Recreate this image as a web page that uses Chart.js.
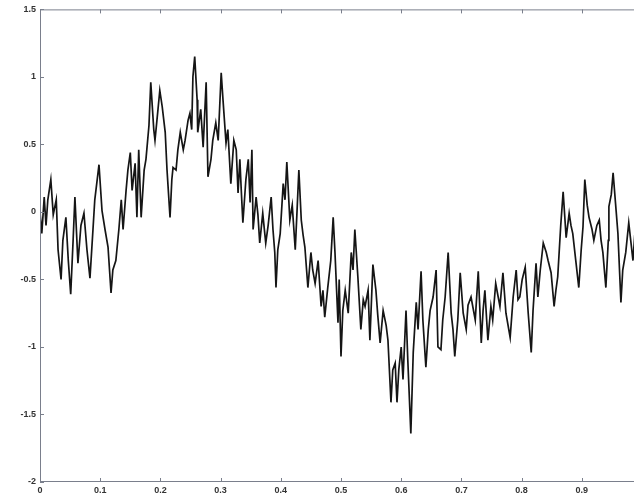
<!DOCTYPE html>
<html>
<head>
<meta charset="utf-8">
<script src="https://cdn.jsdelivr.net/npm/chart.js@4"></script>
<style>
html,body{margin:0;padding:0;background:#fff;overflow:hidden;}
#wrap{width:650px;height:504px;}
</style>
</head>
<body>
<div id="wrap"><canvas id="c" width="650" height="504"></canvas></div>
<script>
const xValues = [0.000,0.003,0.007,0.010,0.013,0.018,0.022,0.027,0.030,0.035,0.038,0.043,0.047,0.051,0.055,0.058,0.063,0.068,0.073,0.078,0.083,0.088,0.091,0.098,0.103,0.108,0.113,0.118,0.121,0.126,0.131,0.135,0.138,0.143,0.146,0.150,0.153,0.158,0.161,0.164,0.168,0.173,0.176,0.181,0.184,0.189,0.191,0.196,0.199,0.203,0.208,0.211,0.216,0.219,0.221,0.226,0.229,0.233,0.238,0.241,0.246,0.249,0.252,0.254,0.257,0.261,0.262,0.267,0.271,0.276,0.279,0.284,0.287,0.292,0.296,0.301,0.304,0.309,0.312,0.317,0.322,0.326,0.329,
0.332,0.334,0.337,0.342,0.346,0.349,0.352,0.354,0.359,0.362,0.365,0.370,0.375,0.379,0.384,0.387,0.390,0.392,0.395,0.399,0.404,0.407,0.410,0.415,0.419,0.424,0.427,0.430,0.434,0.437,0.440,0.445,0.450,0.453,0.457,0.462,0.467,0.470,0.473,0.478,0.483,0.487,0.490,0.495,
0.497,0.500,0.503,0.507,0.512,0.517,0.520,0.523,0.528,0.533,0.537,0.540,0.545,0.548,0.553,0.558,0.561,0.565,0.570,0.575,0.578,0.583,0.586,0.590,0.593,0.596,0.600,0.603,0.608,0.611,0.616,0.620,0.625,0.628,0.633,0.636,0.641,0.645,0.648,0.653,0.658,0.661,
0.666,0.669,0.673,0.678,0.683,0.686,0.689,0.694,0.698,0.703,0.708,0.711,0.716,0.723,0.728,0.733,0.736,0.739,0.744,0.749,0.752,0.757,0.764,0.769,0.774,0.781,0.786,0.791,0.794,0.797,0.801,0.806,0.811,0.816,0.819,0.824,0.827,
0.831,0.836,0.841,0.844,0.849,0.854,0.857,0.860,0.865,0.869,0.874,0.879,0.882,0.885,0.890,0.895,0.899,0.902,0.905,0.909,0.912,0.917,0.920,0.925,0.929,0.932,0.935,0.940,0.944,0.945,0.949,0.952,0.957,0.960,0.965,0.968,0.973,0.978,0.982,0.985,0.988];
const yValues = [0.00,-0.16,0.11,-0.10,0.09,0.24,-0.02,0.09,-0.28,-0.50,-0.21,-0.04,-0.36,-0.61,-0.21,0.11,-0.38,-0.10,-0.01,-0.28,-0.49,-0.13,0.09,0.35,0.01,-0.13,-0.26,-0.60,-0.43,-0.36,-0.13,0.09,-0.13,0.16,0.31,0.44,0.16,0.36,-0.04,0.46,-0.04,0.31,0.39,0.64,0.96,0.61,0.53,0.76,0.90,0.78,0.59,0.31,-0.04,0.24,0.33,0.31,0.46,0.59,0.46,0.53,0.68,0.73,0.61,1.00,1.15,0.83,0.59,0.76,0.48,0.96,0.26,0.39,0.53,0.66,0.53,1.03,0.83,0.51,0.61,0.21,0.53,0.46,0.14,
0.39,0.19,-0.08,0.24,0.39,0.07,0.46,-0.13,0.11,-0.02,-0.23,-0.01,-0.23,-0.10,0.11,-0.13,-0.30,-0.56,-0.28,-0.16,0.21,0.09,0.37,-0.06,0.05,-0.28,0.01,0.31,-0.06,-0.17,-0.26,-0.56,-0.30,-0.43,-0.53,-0.36,-0.70,-0.58,-0.78,-0.56,-0.36,-0.04,-0.30,-0.82,
-0.50,-1.07,-0.73,-0.58,-0.75,-0.30,-0.43,-0.13,-0.48,-0.87,-0.65,-0.70,-0.58,-0.95,-0.39,-0.58,-0.76,-0.97,-0.73,-0.84,-0.95,-1.41,-1.17,-1.12,-1.41,-1.17,-1.00,-1.24,-0.73,-1.10,-1.64,-1.04,-0.67,-0.87,-0.44,-0.80,-1.15,-0.87,-0.73,-0.63,-0.43,-1.00,
-1.02,-0.80,-0.63,-0.30,-0.75,-0.87,-1.07,-0.80,-0.45,-0.75,-0.87,-0.69,-0.63,-0.80,-0.44,-0.97,-0.73,-0.58,-0.95,-0.70,-0.80,-0.53,-0.70,-0.45,-0.75,-0.93,-0.63,-0.43,-0.65,-0.63,-0.50,-0.41,-0.75,-1.04,-0.73,-0.38,-0.63,
-0.43,-0.23,-0.30,-0.36,-0.45,-0.70,-0.58,-0.48,-0.10,0.15,-0.19,-0.01,-0.10,-0.16,-0.36,-0.56,-0.28,-0.11,0.24,0.05,-0.04,-0.13,-0.21,-0.10,-0.06,-0.21,-0.30,-0.56,-0.21,0.04,0.13,0.29,0.01,-0.16,-0.67,-0.43,-0.30,-0.08,-0.24,-0.36,-0.17];
const xTicks = [0,0.1,0.2,0.3,0.4,0.5,0.6,0.7,0.8,0.9,1];
const yTicks = [-2,-1.5,-1,-0.5,0,0.5,1,1.5];

const points = xValues.map((x,i)=>({x:x,y:yValues[i]}));
const AXIS = '#7a7f8c';

const frame = {
  id:'frame',
  afterDraw(chart){
    const {ctx, chartArea:a, scales:{x,y}} = chart;
    ctx.save();
    ctx.strokeStyle = AXIS;
    ctx.lineWidth = 1;
    ctx.beginPath();
    ctx.rect(a.left+0.5, a.top+0.5, a.right-a.left-1, a.bottom-a.top-1);
    ctx.stroke();
    const L = 4;
    ctx.beginPath();
    xTicks.forEach(v=>{
      const px = Math.round(x.getPixelForValue(v))+0.5;
      ctx.moveTo(px,a.bottom); ctx.lineTo(px,a.bottom-L);
      ctx.moveTo(px,a.top); ctx.lineTo(px,a.top+L);
    });
    yTicks.forEach(v=>{
      const py = Math.round(y.getPixelForValue(v))+0.5;
      ctx.moveTo(a.left,py); ctx.lineTo(a.left+L,py);
      ctx.moveTo(a.right,py); ctx.lineTo(a.right-L,py);
    });
    ctx.stroke();
    ctx.restore();
  }
};

new Chart(document.getElementById('c'), {
  type:'scatter',
  data:{datasets:[{
    data:points,
    showLine:true,
    borderColor:'#151515',
    borderWidth:1.7,
    pointRadius:0,
    tension:0
  }]},
  options:{
    responsive:false,
    animation:false,
    layout:{padding:{top:9,right:8,left:0,bottom:0}},
    plugins:{legend:{display:false},tooltip:{enabled:false}},
    scales:{
      x:{
        type:'linear',min:0,max:1,
        afterBuildTicks(s){ s.ticks = xTicks.map(v=>({value:v})); },
        afterFit(s){ s.height = 22; },
        grid:{display:false,drawTicks:false},
        border:{display:false},
        ticks:{padding:3,color:'#333',font:{family:'Liberation Sans',size:9,weight:'bold'},maxRotation:0,autoSkip:false,
          callback:v=>String(v)}
      },
      y:{
        type:'linear',min:-2,max:1.5,
        afterBuildTicks(s){ s.ticks = yTicks.map(v=>({value:v})); },
        afterFit(s){ s.width = 40; },
        grid:{display:false,drawTicks:false},
        border:{display:false},
        ticks:{padding:4,color:'#333',font:{family:'Liberation Sans',size:9,weight:'bold'},autoSkip:false,
          callback:v=>String(v)}
      }
    }
  },
  plugins:[frame]
});
</script>
</body>
</html>
